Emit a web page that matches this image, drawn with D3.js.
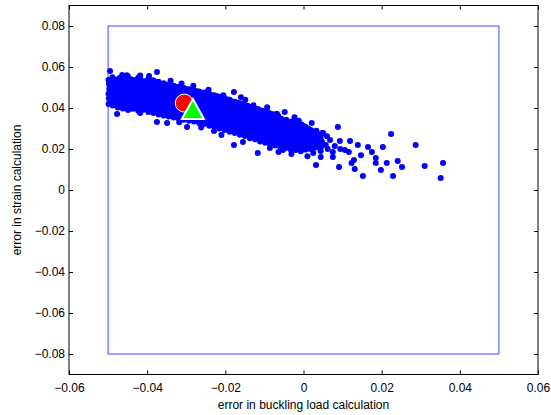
<!DOCTYPE html>
<html>
<head>
<meta charset="utf-8">
<script src="https://cdn.jsdelivr.net/npm/d3@7"></script>
<style>
  html, body { margin: 0; padding: 0; background: #fff; }
  svg { display: block; }
  text { font-family: "Liberation Sans", Arial, sans-serif; fill: #000; }
</style>
</head>
<body>
<svg id="chart" width="551" height="415"></svg>
<script>
// Monte Carlo samples: [error in buckling load, error in strain]
const samples = [
  // dense band, left part
  [-0.0499,0.0420],[-0.0498,0.0447],[-0.0499,0.0469],[-0.0497,0.0494],[-0.0498,0.0517],[-0.0499,0.0537],
  [-0.0488,0.0412],[-0.0486,0.0437],[-0.0489,0.0458],[-0.0485,0.0484],[-0.0488,0.0505],[-0.0486,0.0531],[-0.0489,0.0550],
  [-0.0475,0.0403],[-0.0473,0.0429],[-0.0476,0.0452],[-0.0472,0.0476],[-0.0475,0.0500],[-0.0474,0.0522],[-0.0471,0.0546],
  [-0.0462,0.0398],[-0.0460,0.0424],[-0.0463,0.0444],[-0.0459,0.0471],[-0.0461,0.0491],[-0.0463,0.0517],[-0.0460,0.0539],
  [-0.0449,0.0390],[-0.0447,0.0416],[-0.0450,0.0439],[-0.0446,0.0463],[-0.0448,0.0486],[-0.0450,0.0510],[-0.0447,0.0532],[-0.0449,0.0554],
  [-0.0436,0.0396],[-0.0434,0.0421],[-0.0437,0.0445],[-0.0433,0.0469],[-0.0435,0.0492],[-0.0437,0.0516],[-0.0434,0.0537],
  [-0.0423,0.0386],[-0.0421,0.0411],[-0.0424,0.0432],[-0.0420,0.0457],[-0.0422,0.0481],[-0.0424,0.0503],[-0.0421,0.0528],[-0.0423,0.0547],
  [-0.0410,0.0391],[-0.0408,0.0413],[-0.0411,0.0438],[-0.0407,0.0462],[-0.0409,0.0485],[-0.0411,0.0509],[-0.0408,0.0531],
  [-0.0397,0.0380],[-0.0395,0.0405],[-0.0398,0.0427],[-0.0394,0.0452],[-0.0396,0.0476],[-0.0398,0.0498],[-0.0395,0.0523],[-0.0397,0.0543],
  [-0.0384,0.0376],[-0.0382,0.0398],[-0.0385,0.0424],[-0.0381,0.0445],[-0.0383,0.0471],[-0.0385,0.0493],[-0.0382,0.0518],[-0.0384,0.0535],
  [-0.0371,0.0368],[-0.0369,0.0394],[-0.0372,0.0416],[-0.0368,0.0441],[-0.0370,0.0463],[-0.0372,0.0488],[-0.0369,0.0509],[-0.0371,0.0528],
  [-0.0358,0.0364],[-0.0356,0.0387],[-0.0359,0.0412],[-0.0355,0.0434],[-0.0357,0.0459],[-0.0359,0.0481],[-0.0356,0.0506],[-0.0358,0.0521],
  [-0.0345,0.0359],[-0.0343,0.0384],[-0.0346,0.0406],[-0.0342,0.0431],[-0.0344,0.0453],[-0.0346,0.0478],[-0.0343,0.0499],[-0.0345,0.0515],
  [-0.0332,0.0354],[-0.0330,0.0377],[-0.0333,0.0402],[-0.0329,0.0424],[-0.0331,0.0449],[-0.0333,0.0471],[-0.0330,0.0495],[-0.0332,0.0509],
  [-0.0319,0.0348],[-0.0317,0.0373],[-0.0320,0.0395],[-0.0316,0.0420],[-0.0318,0.0442],[-0.0320,0.0467],[-0.0317,0.0488],[-0.0319,0.0503],
  [-0.0306,0.0343],[-0.0304,0.0366],[-0.0307,0.0391],[-0.0303,0.0413],[-0.0305,0.0438],[-0.0307,0.0460],[-0.0304,0.0484],[-0.0306,0.0497],
  [-0.0293,0.0338],[-0.0291,0.0363],[-0.0294,0.0385],[-0.0290,0.0410],[-0.0292,0.0432],[-0.0294,0.0457],[-0.0291,0.0477],[-0.0293,0.0491],
  [-0.0280,0.0334],[-0.0278,0.0356],[-0.0281,0.0382],[-0.0277,0.0403],[-0.0279,0.0429],[-0.0281,0.0450],[-0.0278,0.0475],[-0.0280,0.0486],
  [-0.0267,0.0327],[-0.0265,0.0353],[-0.0268,0.0374],[-0.0264,0.0400],[-0.0266,0.0421],[-0.0268,0.0447],[-0.0265,0.0467],[-0.0267,0.0481],
  // dense band, middle part
  [-0.0254,0.0322],[-0.0252,0.0345],[-0.0255,0.0370],[-0.0251,0.0392],[-0.0253,0.0417],[-0.0255,0.0439],[-0.0252,0.0463],[-0.0254,0.0476],
  [-0.0241,0.0314],[-0.0239,0.0340],[-0.0242,0.0361],[-0.0238,0.0387],[-0.0240,0.0408],[-0.0242,0.0434],[-0.0239,0.0454],[-0.0241,0.0469],
  [-0.0228,0.0309],[-0.0226,0.0331],[-0.0229,0.0356],[-0.0225,0.0378],[-0.0227,0.0403],[-0.0229,0.0425],[-0.0226,0.0449],[-0.0228,0.0462],
  [-0.0215,0.0300],[-0.0213,0.0325],[-0.0216,0.0346],[-0.0212,0.0372],[-0.0214,0.0393],[-0.0216,0.0419],[-0.0213,0.0439],[-0.0215,0.0455],
  [-0.0202,0.0293],[-0.0200,0.0315],[-0.0203,0.0340],[-0.0199,0.0362],[-0.0201,0.0387],[-0.0203,0.0409],[-0.0200,0.0433],[-0.0202,0.0448],
  [-0.0189,0.0284],[-0.0187,0.0310],[-0.0190,0.0331],[-0.0186,0.0357],[-0.0188,0.0378],[-0.0190,0.0404],[-0.0187,0.0424],[-0.0189,0.0440],
  [-0.0176,0.0278],[-0.0174,0.0300],[-0.0177,0.0325],[-0.0173,0.0347],[-0.0175,0.0372],[-0.0177,0.0394],[-0.0174,0.0418],[-0.0176,0.0431],
  [-0.0163,0.0269],[-0.0161,0.0295],[-0.0164,0.0316],[-0.0160,0.0342],[-0.0162,0.0363],[-0.0164,0.0389],[-0.0161,0.0409],[-0.0163,0.0423],
  [-0.0150,0.0263],[-0.0148,0.0285],[-0.0151,0.0310],[-0.0147,0.0332],[-0.0149,0.0357],[-0.0151,0.0379],[-0.0148,0.0403],[-0.0150,0.0415],
  [-0.0137,0.0253],[-0.0135,0.0279],[-0.0138,0.0300],[-0.0134,0.0326],[-0.0136,0.0347],[-0.0138,0.0373],[-0.0135,0.0393],[-0.0137,0.0405],
  [-0.0124,0.0247],[-0.0122,0.0269],[-0.0125,0.0294],[-0.0121,0.0316],[-0.0123,0.0341],[-0.0125,0.0363],[-0.0122,0.0387],[-0.0124,0.0396],
  [-0.0111,0.0237],[-0.0109,0.0263],[-0.0112,0.0284],[-0.0108,0.0310],[-0.0110,0.0331],[-0.0112,0.0357],[-0.0109,0.0377],[-0.0111,0.0389],
  [-0.0098,0.0231],[-0.0096,0.0253],[-0.0099,0.0278],[-0.0095,0.0300],[-0.0097,0.0325],[-0.0099,0.0347],[-0.0096,0.0371],[-0.0098,0.0381],
  [-0.0085,0.0222],[-0.0083,0.0248],[-0.0086,0.0269],[-0.0082,0.0295],[-0.0084,0.0316],[-0.0086,0.0342],[-0.0083,0.0362],[-0.0085,0.0373],
  [-0.0072,0.0217],[-0.0070,0.0239],[-0.0073,0.0264],[-0.0069,0.0286],[-0.0071,0.0311],[-0.0073,0.0333],[-0.0070,0.0357],[-0.0072,0.0365],
  [-0.0059,0.0209],[-0.0057,0.0235],[-0.0060,0.0256],[-0.0056,0.0282],[-0.0058,0.0303],[-0.0060,0.0329],[-0.0057,0.0348],
  [-0.0046,0.0205],[-0.0044,0.0227],[-0.0047,0.0252],[-0.0043,0.0274],[-0.0045,0.0299],[-0.0047,0.0321],[-0.0044,0.0343],
  [-0.0033,0.0198],[-0.0031,0.0224],[-0.0034,0.0245],[-0.0030,0.0271],[-0.0032,0.0292],[-0.0034,0.0317],[-0.0031,0.0334],
  [-0.0020,0.0195],[-0.0018,0.0217],[-0.0021,0.0242],[-0.0017,0.0264],[-0.0019,0.0289],[-0.0021,0.0309],[-0.0018,0.0329],
  [-0.0007,0.0189],[-0.0005,0.0215],[-0.0008,0.0236],[-0.0004,0.0262],[-0.0006,0.0283],[-0.0008,0.0306],[-0.0005,0.0319],
  [0.0006,0.0197],[0.0008,0.0219],[0.0005,0.0244],[0.0009,0.0266],[0.0007,0.0291],[0.0005,0.0309],
  [0.0019,0.0199],[0.0021,0.0225],[0.0018,0.0246],[0.0022,0.0272],[0.0020,0.0292],
  [0.0032,0.0207],[0.0034,0.0229],[0.0031,0.0254],[0.0035,0.0275],[0.0033,0.0289],
  [0.0045,0.0211],[0.0047,0.0237],[0.0044,0.0258],[0.0048,0.0278],
  // dense band, samples lying between the above
  [-0.0493,0.0428],[-0.0492,0.0455],[-0.0494,0.0477],[-0.0493,0.0502],[-0.0492,0.0525],
  [-0.0481,0.0420],[-0.0480,0.0445],[-0.0482,0.0466],[-0.0481,0.0492],[-0.0480,0.0513],[-0.0482,0.0539],
  [-0.0468,0.0411],[-0.0467,0.0437],[-0.0469,0.0460],[-0.0468,0.0484],[-0.0467,0.0508],[-0.0469,0.0530],
  [-0.0455,0.0406],[-0.0454,0.0432],[-0.0456,0.0452],[-0.0455,0.0479],[-0.0454,0.0499],[-0.0456,0.0525],
  [-0.0442,0.0398],[-0.0441,0.0424],[-0.0443,0.0447],[-0.0442,0.0471],[-0.0441,0.0494],[-0.0443,0.0518],[-0.0442,0.0540],
  [-0.0429,0.0404],[-0.0428,0.0429],[-0.0430,0.0453],[-0.0429,0.0477],[-0.0428,0.0500],[-0.0430,0.0524],
  [-0.0416,0.0394],[-0.0415,0.0419],[-0.0417,0.0440],[-0.0416,0.0465],[-0.0415,0.0489],[-0.0417,0.0511],[-0.0416,0.0536],
  [-0.0403,0.0399],[-0.0402,0.0421],[-0.0404,0.0446],[-0.0403,0.0470],[-0.0402,0.0493],[-0.0404,0.0517],
  [-0.0390,0.0388],[-0.0389,0.0413],[-0.0391,0.0435],[-0.0390,0.0460],[-0.0389,0.0484],[-0.0391,0.0506],[-0.0390,0.0531],
  [-0.0377,0.0384],[-0.0376,0.0406],[-0.0378,0.0432],[-0.0377,0.0453],[-0.0376,0.0479],[-0.0378,0.0501],[-0.0377,0.0526],
  [-0.0364,0.0376],[-0.0363,0.0402],[-0.0365,0.0424],[-0.0364,0.0449],[-0.0363,0.0471],[-0.0365,0.0496],[-0.0364,0.0517],
  [-0.0351,0.0372],[-0.0350,0.0395],[-0.0352,0.0420],[-0.0351,0.0442],[-0.0350,0.0467],[-0.0352,0.0489],[-0.0351,0.0514],
  [-0.0338,0.0367],[-0.0337,0.0392],[-0.0339,0.0414],[-0.0338,0.0439],[-0.0337,0.0461],[-0.0339,0.0486],[-0.0338,0.0507],
  [-0.0325,0.0362],[-0.0324,0.0385],[-0.0326,0.0410],[-0.0325,0.0432],[-0.0324,0.0457],[-0.0326,0.0479],[-0.0325,0.0503],
  [-0.0312,0.0356],[-0.0311,0.0381],[-0.0313,0.0403],[-0.0312,0.0428],[-0.0311,0.0450],[-0.0313,0.0475],[-0.0312,0.0496],
  [-0.0299,0.0351],[-0.0298,0.0374],[-0.0300,0.0399],[-0.0299,0.0421],[-0.0298,0.0446],[-0.0300,0.0468],[-0.0299,0.0492],
  [-0.0286,0.0346],[-0.0285,0.0371],[-0.0287,0.0393],[-0.0286,0.0418],[-0.0285,0.0440],[-0.0287,0.0465],[-0.0286,0.0485],
  [-0.0273,0.0342],[-0.0272,0.0364],[-0.0274,0.0390],[-0.0273,0.0411],[-0.0272,0.0437],[-0.0274,0.0458],[-0.0273,0.0482],
  [-0.0260,0.0335],[-0.0259,0.0361],[-0.0261,0.0382],[-0.0260,0.0408],[-0.0259,0.0429],[-0.0261,0.0455],[-0.0260,0.0475],
  [-0.0247,0.0330],[-0.0246,0.0353],[-0.0248,0.0378],[-0.0247,0.0400],[-0.0246,0.0425],[-0.0248,0.0447],[-0.0247,0.0471],
  [-0.0234,0.0322],[-0.0233,0.0348],[-0.0235,0.0369],[-0.0234,0.0395],[-0.0233,0.0416],[-0.0235,0.0442],[-0.0234,0.0462],
  [-0.0221,0.0317],[-0.0220,0.0339],[-0.0222,0.0364],[-0.0221,0.0386],[-0.0220,0.0411],[-0.0222,0.0433],[-0.0221,0.0457],
  [-0.0208,0.0308],[-0.0207,0.0333],[-0.0209,0.0354],[-0.0208,0.0380],[-0.0207,0.0401],[-0.0209,0.0427],[-0.0208,0.0447],
  [-0.0195,0.0301],[-0.0194,0.0323],[-0.0196,0.0348],[-0.0195,0.0370],[-0.0194,0.0395],[-0.0196,0.0417],[-0.0195,0.0441],
  [-0.0182,0.0292],[-0.0181,0.0318],[-0.0183,0.0339],[-0.0182,0.0365],[-0.0181,0.0386],[-0.0183,0.0412],[-0.0182,0.0432],
  [-0.0169,0.0286],[-0.0168,0.0308],[-0.0170,0.0333],[-0.0169,0.0355],[-0.0168,0.0380],[-0.0170,0.0402],[-0.0169,0.0426],
  [-0.0156,0.0277],[-0.0155,0.0303],[-0.0157,0.0324],[-0.0156,0.0350],[-0.0155,0.0371],[-0.0157,0.0397],[-0.0156,0.0417],
  [-0.0143,0.0271],[-0.0142,0.0293],[-0.0144,0.0318],[-0.0143,0.0340],[-0.0142,0.0365],[-0.0144,0.0387],[-0.0143,0.0411],
  [-0.0130,0.0261],[-0.0129,0.0287],[-0.0131,0.0308],[-0.0130,0.0334],[-0.0129,0.0355],[-0.0131,0.0381],[-0.0130,0.0401],
  [-0.0117,0.0255],[-0.0116,0.0277],[-0.0118,0.0302],[-0.0117,0.0324],[-0.0116,0.0349],[-0.0118,0.0371],[-0.0117,0.0395],
  [-0.0104,0.0245],[-0.0103,0.0271],[-0.0105,0.0292],[-0.0104,0.0318],[-0.0103,0.0339],[-0.0105,0.0365],[-0.0104,0.0385],
  [-0.0091,0.0239],[-0.0090,0.0261],[-0.0092,0.0286],[-0.0091,0.0308],[-0.0090,0.0333],[-0.0092,0.0355],[-0.0091,0.0379],
  [-0.0078,0.0230],[-0.0077,0.0256],[-0.0079,0.0277],[-0.0078,0.0303],[-0.0077,0.0324],[-0.0079,0.0350],[-0.0078,0.0370],
  [-0.0065,0.0225],[-0.0064,0.0247],[-0.0066,0.0272],[-0.0065,0.0294],[-0.0064,0.0319],[-0.0066,0.0341],[-0.0065,0.0362],
  [-0.0052,0.0217],[-0.0051,0.0243],[-0.0053,0.0264],[-0.0052,0.0290],[-0.0051,0.0311],[-0.0053,0.0337],
  [-0.0039,0.0213],[-0.0038,0.0235],[-0.0040,0.0260],[-0.0039,0.0282],[-0.0038,0.0307],[-0.0040,0.0329],
  [-0.0026,0.0206],[-0.0025,0.0232],[-0.0027,0.0253],[-0.0026,0.0279],[-0.0025,0.0300],[-0.0027,0.0325],
  [-0.0013,0.0203],[-0.0012,0.0225],[-0.0014,0.0250],[-0.0013,0.0272],[-0.0012,0.0297],[-0.0014,0.0317],
  [0.0000,0.0197],[0.0001,0.0223],[-0.0001,0.0244],[0.0000,0.0270],[0.0001,0.0291],[-0.0001,0.0312],
  [0.0012,0.0205],[0.0013,0.0227],[0.0011,0.0252],[0.0012,0.0274],[0.0013,0.0299],
  [0.0026,0.0207],[0.0027,0.0233],[0.0025,0.0254],[0.0026,0.0280],
  [0.0039,0.0215],[0.0040,0.0237],[0.0038,0.0262],
  // scattered points around the band
  [-0.0495,0.0580],[-0.0464,0.0561],[-0.0375,0.0576],[-0.0477,0.0371],[-0.0375,0.0332],
  [-0.0452,0.0560],[-0.0418,0.0558],[-0.0340,0.0533],[-0.0312,0.0519],[-0.0282,0.0508],
  [-0.0178,0.0478],[-0.0160,0.0452],[-0.0149,0.0440],[-0.0093,0.0404],[-0.0048,0.0380],[-0.0023,0.0355],
  [-0.0229,0.0288],[-0.0178,0.0220],[-0.0117,0.0180],[-0.0210,0.0268],[-0.0262,0.0305],[-0.0318,0.0330],
  [-0.0064,0.0185],[-0.0031,0.0176],
  [-0.0418,0.0376],[-0.0349,0.0327],[-0.0298,0.0307],[-0.0155,0.0234],[-0.0086,0.0205],[-0.0053,0.0195],
  [-0.0395,0.0556],[-0.0243,0.0489],[-0.0205,0.0462],[-0.0128,0.0414],[-0.0068,0.0372],[-0.0012,0.0338],
  [0.0021,0.0327],[0.0050,0.0278],[0.0088,0.0307],[0.0224,0.0273],[0.0287,0.0220],
  [0.0357,0.0132],[0.0351,0.0059],[0.0310,0.0117],[0.0229,0.0068],[0.0152,0.0068],
  [0.0091,0.0112],[0.0032,0.0122],[0.0131,0.0102],[0.0198,0.0098],[0.0213,0.0132],
  [0.0241,0.0141],[0.0252,0.0112],[0.0185,0.0156],[0.0203,0.0210],[0.0165,0.0210],
  [0.0139,0.0220],[0.0119,0.0239],[0.0093,0.0239],[0.0175,0.0185],[0.0147,0.0170],
  [0.0129,0.0146],[0.0123,0.0132],[0.0106,0.0195],[0.0075,0.0185],[0.0185,0.0132],
  [0.0068,0.0244],[0.0057,0.0220],[0.0075,0.0161],[0.0044,0.0190],[0.0062,0.0200],
  [0.0094,0.0200],[0.0044,0.0161],[0.0116,0.0185],[0.0080,0.0215],[0.0025,0.0180],
  [0.0060,0.0262],[0.0010,0.0165]
];

// statistics markers
const meanPoint = [-0.0305, 0.0424];
const nominalPoint = [-0.0283, 0.0395];

// region bounds
const boundX = [-0.05, 0.05];
const boundY = [-0.08, 0.08];

const xTicks = [-0.06, -0.04, -0.02, 0, 0.02, 0.04, 0.06];
const yTicks = [-0.08, -0.06, -0.04, -0.02, 0, 0.02, 0.04, 0.06, 0.08];
const xLabel = "error in buckling load calculation";
const yLabel = "error in strain calculation";

const svg = d3.select("#chart");
const plotLeft = 69, plotRight = 538, plotTop = 5.5, plotBottom = 374.5;

const x = d3.scaleLinear().domain([-0.06, 0.06]).range([plotLeft, plotRight]);
const y = d3.scaleLinear().domain([-0.09, 0.09]).range([plotBottom, plotTop]);

const fmt = v => (Math.abs(v) < 1e-12 ? "0" : d3.format(".2f")(v));

// axes with inward ticks
const tickLen = 4;
const gx = svg.append("g").attr("transform", `translate(0,${plotBottom})`)
  .call(d3.axisBottom(x).tickValues(xTicks).tickFormat(fmt).tickSizeInner(-tickLen).tickSizeOuter(0).tickPadding(9));
const gxTop = svg.append("g").attr("transform", `translate(0,${plotTop})`)
  .call(d3.axisTop(x).tickValues(xTicks).tickFormat("").tickSizeInner(-tickLen).tickSizeOuter(0));
const gy = svg.append("g").attr("transform", `translate(${plotLeft},0)`)
  .call(d3.axisLeft(y).tickValues(yTicks).tickFormat(fmt).tickSizeInner(-tickLen).tickSizeOuter(0).tickPadding(4));
const gyRight = svg.append("g").attr("transform", `translate(${plotRight},0)`)
  .call(d3.axisRight(y).tickValues(yTicks).tickFormat("").tickSizeInner(-tickLen).tickSizeOuter(0));

[gx, gxTop, gy, gyRight].forEach(g => {
  g.selectAll(".domain").remove();
  g.selectAll(".tick line").attr("stroke", "#000");
  g.selectAll(".tick text").attr("font-size", 12)
    .attr("font-family", "'Liberation Sans', Arial, sans-serif").attr("fill", "#000");
});

// bounding region
svg.append("rect")
  .attr("x", x(boundX[0])).attr("y", y(boundY[1]))
  .attr("width", x(boundX[1]) - x(boundX[0]))
  .attr("height", y(boundY[0]) - y(boundY[1]))
  .attr("fill", "none").attr("stroke", "#4848ff").attr("stroke-width", 1);

// sample cloud
svg.append("g").selectAll("circle").data(samples).join("circle")
  .attr("cx", d => x(d[0])).attr("cy", d => y(d[1]))
  .attr("r", 3.0).attr("fill", "#0000ff");

// mean marker
svg.append("circle")
  .attr("cx", x(meanPoint[0])).attr("cy", y(meanPoint[1]))
  .attr("r", 9).attr("fill", "#ff0000").attr("stroke", "#fff").attr("stroke-width", 1);

// nominal marker
const tx = x(nominalPoint[0]), ty = y(nominalPoint[1]);
svg.append("path")
  .attr("d", `M${tx},${ty - 10}L${tx + 11},${ty + 10}L${tx - 11},${ty + 10}Z`)
  .attr("fill", "#00ff00").attr("stroke", "#fff").attr("stroke-width", 2).attr("stroke-linejoin", "miter");

// axes box
svg.append("rect")
  .attr("x", plotLeft).attr("y", plotTop).attr("width", plotRight - plotLeft).attr("height", plotBottom - plotTop)
  .attr("fill", "none").attr("stroke", "#000").attr("stroke-width", 1);

// axis titles
svg.append("text").attr("x", (plotLeft + plotRight) / 2).attr("y", 409)
  .attr("text-anchor", "middle").attr("font-size", 12).text(xLabel);
svg.append("text").attr("transform", `translate(21,${(plotTop + plotBottom) / 2}) rotate(-90)`)
  .attr("text-anchor", "middle").attr("font-size", 12).text(yLabel);
</script>
</body>
</html>
